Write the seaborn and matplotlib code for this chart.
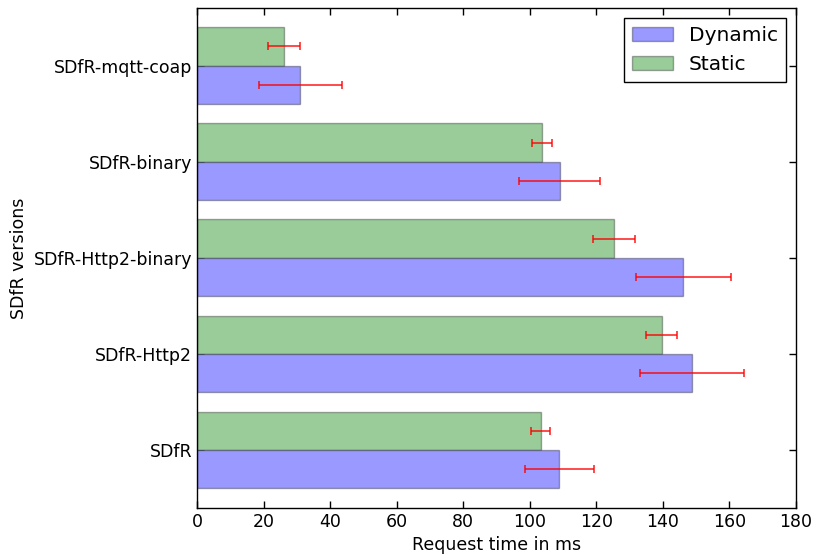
import numpy as np
import pandas as pd
import matplotlib
matplotlib.use("Agg")
import matplotlib.pyplot as plt
import seaborn as sns

# SDfR variants, listed top to bottom
versions = ["SDfR-mqtt-coap", "SDfR-binary", "SDfR-Http2-binary", "SDfR-Http2", "SDfR"]

# mean request times (ms) and their spread
dynamic_mean = [31.1, 109.0, 146.1, 148.7, 108.9]
dynamic_err = [12.4, 12.2, 14.3, 15.7, 10.4]
static_mean = [26.1, 103.6, 125.3, 139.6, 103.3]
static_err = [4.8, 3.0, 6.4, 4.7, 2.9]

modes = ["Static", "Dynamic"]
mode_colors = {"Dynamic": "#9999ff", "Static": "#99cc99"}

df = pd.DataFrame({
    "version": versions * 2,
    "time": static_mean + dynamic_mean,
    "err": static_err + dynamic_err,
    "mode": ["Static"] * len(versions) + ["Dynamic"] * len(versions),
})

sns.set_theme(style="ticks", rc={
    "text.color": "black", "axes.labelcolor": "black",
    "xtick.color": "black", "ytick.color": "black",
    "axes.edgecolor": "black",
})
plt.rcParams["font.family"] = ["DejaVu Sans"]
plt.rcParams["font.size"] = 12.5

fig = plt.figure(figsize=(8.15, 5.56), dpi=100)
ax = fig.add_axes([0.2417, 0.0869, 0.7350, 0.8987])

sns.barplot(
    data=df, x="time", y="version", hue="mode",
    order=versions, hue_order=modes, palette=mode_colors,
    orient="h", width=0.8, saturation=1, errorbar=None,
    edgecolor=(0, 0, 0, 0.32), linewidth=1.0, ax=ax,
)

# error bars at the centre of each drawn bar
for container, mode in zip(ax.containers, modes):
    sub = df[df["mode"] == mode].set_index("version").loc[versions]
    centers = [p.get_y() + p.get_height() / 2 for p in container.patches]
    ax.errorbar(sub["time"].values, centers, xerr=sub["err"].values,
                fmt="none", ecolor="red", elinewidth=1.1, capsize=3,
                capthick=1.1, alpha=0.9, zorder=5)

ax.set_xlim(0, 180)
ax.set_ylim(len(versions) - 0.4, -0.6)
ax.set_xticks(np.arange(0, 181, 20))
ax.set_xlabel("Request time in ms", fontsize=12.5, color="black")
ax.set_ylabel("SDfR versions", fontsize=12.5, color="black")

for side in ["top", "right", "left", "bottom"]:
    ax.spines[side].set_visible(True)
    ax.spines[side].set_color("black")
    ax.spines[side].set_linewidth(1.0)
ax.tick_params(axis="both", which="major", direction="in", length=5,
               width=1, color="black", labelcolor="black", labelsize=12.5,
               pad=3.5, top=True, right=True)

handles, labels = ax.get_legend_handles_labels()
order = [labels.index("Dynamic"), labels.index("Static")]
leg = ax.legend([handles[i] for i in order], [labels[i] for i in order],
                loc="upper right", fontsize=14.5, frameon=True, fancybox=False,
                edgecolor="black", framealpha=1, borderaxespad=0.5,
                handlelength=2.0, title=None)
leg.get_frame().set_linewidth(1.0)
for t in leg.get_texts():
    t.set_color("black")

fig.savefig("out.png", dpi=100)
